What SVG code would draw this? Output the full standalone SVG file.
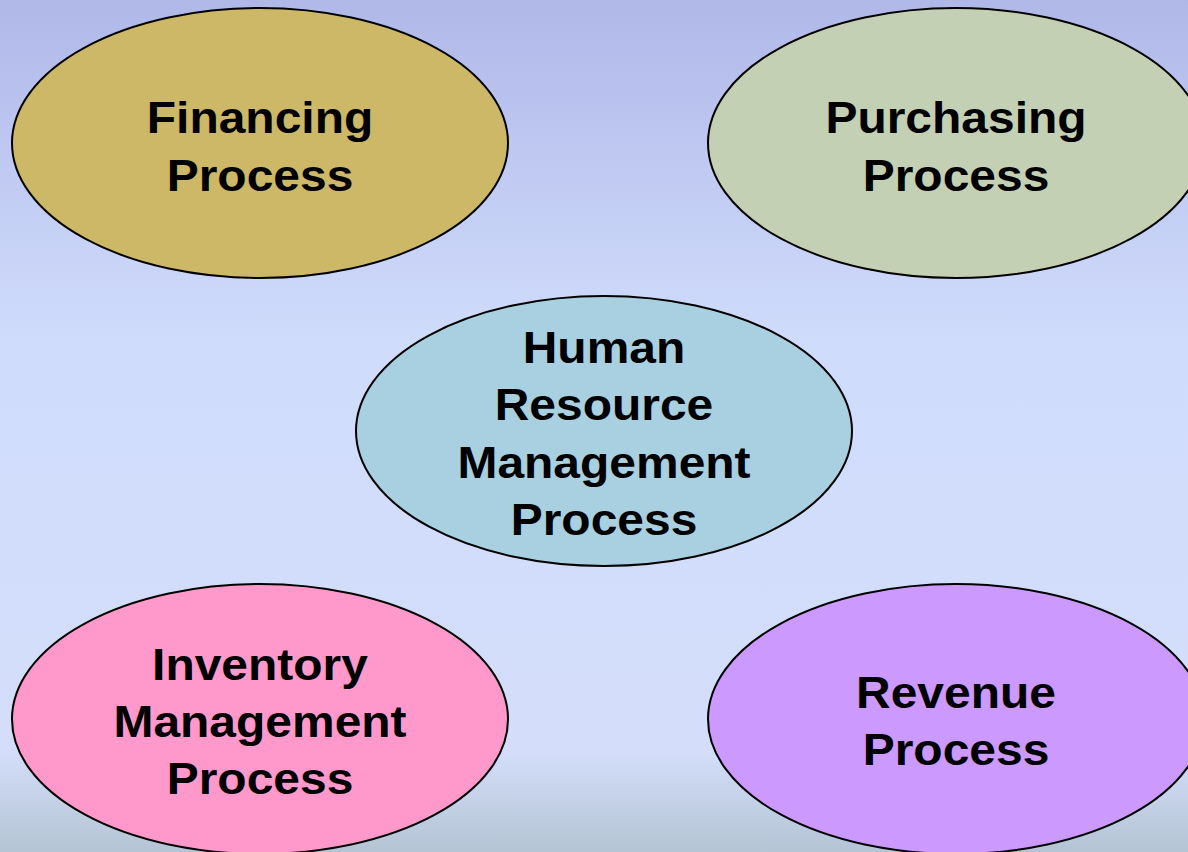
<svg xmlns="http://www.w3.org/2000/svg" width="1188" height="852" viewBox="0 0 1188 852">
<defs>
<linearGradient id="bg" x1="0" y1="0" x2="0" y2="1">
<stop offset="0" stop-color="#b0b8e8"/>
<stop offset="0.4" stop-color="#d0dcfc"/>
<stop offset="0.88" stop-color="#d4defa"/>
<stop offset="1" stop-color="#b4c4d4"/>
</linearGradient>
</defs>
<style>
.n{stroke:#000;stroke-width:2}
.t{font-family:"Liberation Sans",Arial,sans-serif;font-weight:bold;font-size:44px;text-anchor:middle;fill:#000}
</style>
<rect width="1188" height="852" fill="url(#bg)"/>
<g id="connectors"/>
<g id="financing">
<ellipse class="n" cx="260" cy="143" rx="248" ry="135" fill="#ccb866"/>
<g transform="translate(260 0) scale(1.09 1)">
<text class="t" x="0" y="133">Financing</text>
<text class="t" x="0" y="191">Process</text>
</g>
</g>
<g id="purchasing">
<ellipse class="n" cx="956" cy="143" rx="248" ry="135" fill="#c4d0b4"/>
<g transform="translate(956 0) scale(1.09 1)">
<text class="t" x="0" y="133">Purchasing</text>
<text class="t" x="0" y="191">Process</text>
</g>
</g>
<g id="hr">
<ellipse class="n" cx="604" cy="431" rx="248" ry="135" fill="#a8d0e0"/>
<g transform="translate(604 0) scale(1.09 1)">
<text class="t" x="0" y="363">Human</text>
<text class="t" x="0" y="420">Resource</text>
<text class="t" x="0" y="478">Management</text>
<text class="t" x="0" y="535">Process</text>
</g>
</g>
<g id="inventory">
<ellipse class="n" cx="260" cy="719" rx="248" ry="135" fill="#ff99cc"/>
<g transform="translate(260 0) scale(1.09 1)">
<text class="t" x="0" y="680">Inventory</text>
<text class="t" x="0" y="737">Management</text>
<text class="t" x="0" y="794">Process</text>
</g>
</g>
<g id="revenue">
<ellipse class="n" cx="956" cy="719" rx="248" ry="135" fill="#cc99ff"/>
<g transform="translate(956 0) scale(1.09 1)">
<text class="t" x="0" y="708">Revenue</text>
<text class="t" x="0" y="765">Process</text>
</g>
</g>
</svg>
